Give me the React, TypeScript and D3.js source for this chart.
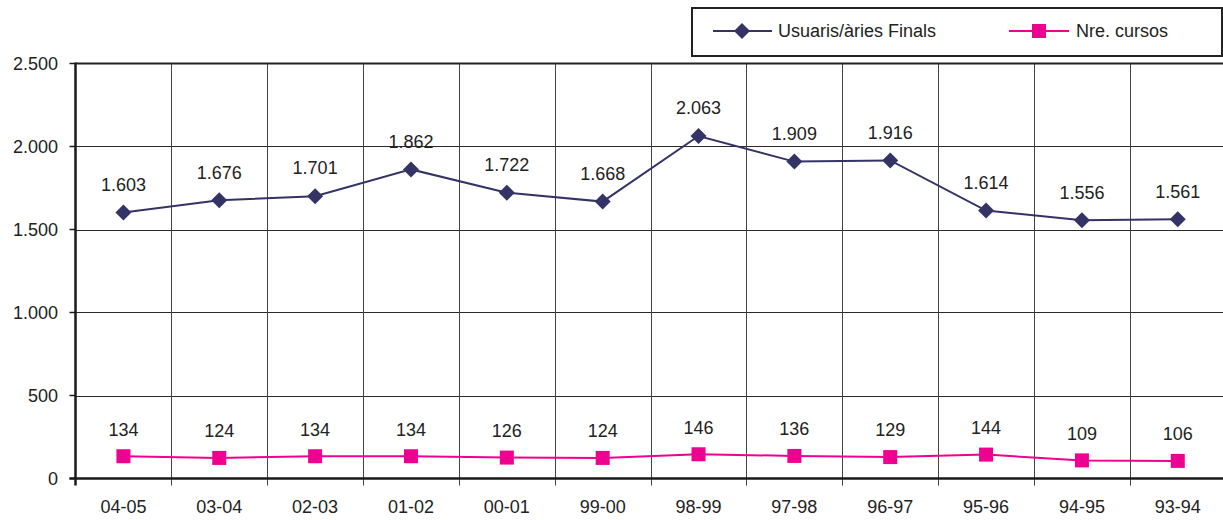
import React from "react";
import * as d3 from "d3";

const categories = ["04-05", "03-04", "02-03", "01-02", "00-01", "99-00", "98-99", "97-98", "96-97", "95-96", "94-95", "93-94"];
const usuaris = [1603, 1676, 1701, 1862, 1722, 1668, 2063, 1909, 1916, 1614, 1556, 1561];
const cursos = [134, 124, 134, 134, 126, 124, 146, 136, 129, 144, 109, 106];
const yTicks = [0, 500, 1000, 1500, 2000, 2500];
const seriesNames = ["Usuaris/àries Finals", "Nre. cursos"];

const W = 1223;
const H = 520;
const left = 75.5;
const bandW = 95.85;
const top = 63.5;
const bottom = 478.5;
const NAVY = "#333366";
const PINK = "#EE0090";
const FONT = "'Liberation Sans', Arial, sans-serif";
const FS = 18;

const fmt = (v: number) => {
  const s = String(v);
  return s.length > 3 ? s.slice(0, s.length - 3) + "." + s.slice(-3) : s;
};

export default function App() {
  const x = d3.scaleBand<string>().domain(categories).range([left, left + bandW * categories.length]).padding(0);
  const y = d3.scaleLinear().domain([0, 2500]).range([bottom, top]);
  const cx = (c: string) => (x(c) as number) + x.bandwidth() / 2;
  const line = d3.line<number>().x((_, i) => cx(categories[i])).y((d) => y(d));
  const diamond = (px: number, py: number, r: number) =>
    `M${px},${py - r}L${px + r},${py}L${px},${py + r}L${px - r},${py}Z`;

  return (
    <svg width={W} height={H} style={{ position: "absolute", left: 0, top: 0, background: "#fff" }} fontFamily={FONT}>
      {yTicks.filter((t) => t > 0 && t < 2500).map((t) => (
        <line key={t} x1={left} x2={W} y1={Math.round(y(t)) + 0.5} y2={Math.round(y(t)) + 0.5} stroke="#2a2a2a" strokeWidth={1} />
      ))}
      {categories.map((c, i) =>
        i === 0 ? null : (
          <line key={c} x1={Math.round(x(c) as number) + 0.5} x2={Math.round(x(c) as number) + 0.5} y1={top} y2={bottom + 7} stroke="#444" strokeWidth={1} />
        )
      )}
      <line x1={left} x2={W} y1={top} y2={top} stroke="#222" strokeWidth={2} />
      <line x1={left - 6} x2={W} y1={bottom} y2={bottom} stroke="#1a1a1a" strokeWidth={2.5} />
      <line x1={left} x2={left} y1={top - 1} y2={bottom + 7} stroke="#1a1a1a" strokeWidth={2.5} />
      {yTicks.map((t) => (
        <g key={t}>
          <line x1={left - 6} x2={left} y1={y(t)} y2={y(t)} stroke="#1a1a1a" strokeWidth={1.5} />
          <text x={58} y={y(t)} dy="0.35em" textAnchor="end" fontSize={FS} fill="#222">{fmt(t)}</text>
        </g>
      ))}
      {categories.map((c) => (
        <text key={c} x={cx(c)} y={507} dy="0.35em" textAnchor="middle" fontSize={FS} fill="#222">{c}</text>
      ))}
      <path d={line(usuaris) || ""} fill="none" stroke={NAVY} strokeWidth={2} />
      <path d={line(cursos) || ""} fill="none" stroke={PINK} strokeWidth={2} />
      {usuaris.map((v, i) => (
        <g key={"u" + i}>
          <path d={diamond(cx(categories[i]), y(v), 8)} fill={NAVY} />
          <text x={cx(categories[i])} y={y(v) - 28} dy="0.35em" textAnchor="middle" fontSize={FS} fill="#222">{fmt(v)}</text>
        </g>
      ))}
      {cursos.map((v, i) => (
        <g key={"c" + i}>
          <rect x={cx(categories[i]) - 7} y={y(v) - 7} width={14} height={14} fill={PINK} />
          <text x={cx(categories[i])} y={y(v) - 27} dy="0.35em" textAnchor="middle" fontSize={FS} fill="#222">{fmt(v)}</text>
        </g>
      ))}
      <rect x={692} y={8} width={530} height={48} fill="#fff" stroke="#222" strokeWidth={2} />
      <line x1={713} x2={772} y1={31} y2={31} stroke={NAVY} strokeWidth={2} />
      <path d={diamond(742, 31, 8)} fill={NAVY} />
      <text x={778} y={31} dy="0.35em" fontSize={FS} fill="#222">{seriesNames[0]}</text>
      <line x1={1009} x2={1069} y1={31} y2={31} stroke={PINK} strokeWidth={2} />
      <rect x={1032} y={24} width={14} height={14} fill={PINK} />
      <text x={1076} y={31} dy="0.35em" fontSize={FS} fill="#222">{seriesNames[1]}</text>
    </svg>
  );
}
